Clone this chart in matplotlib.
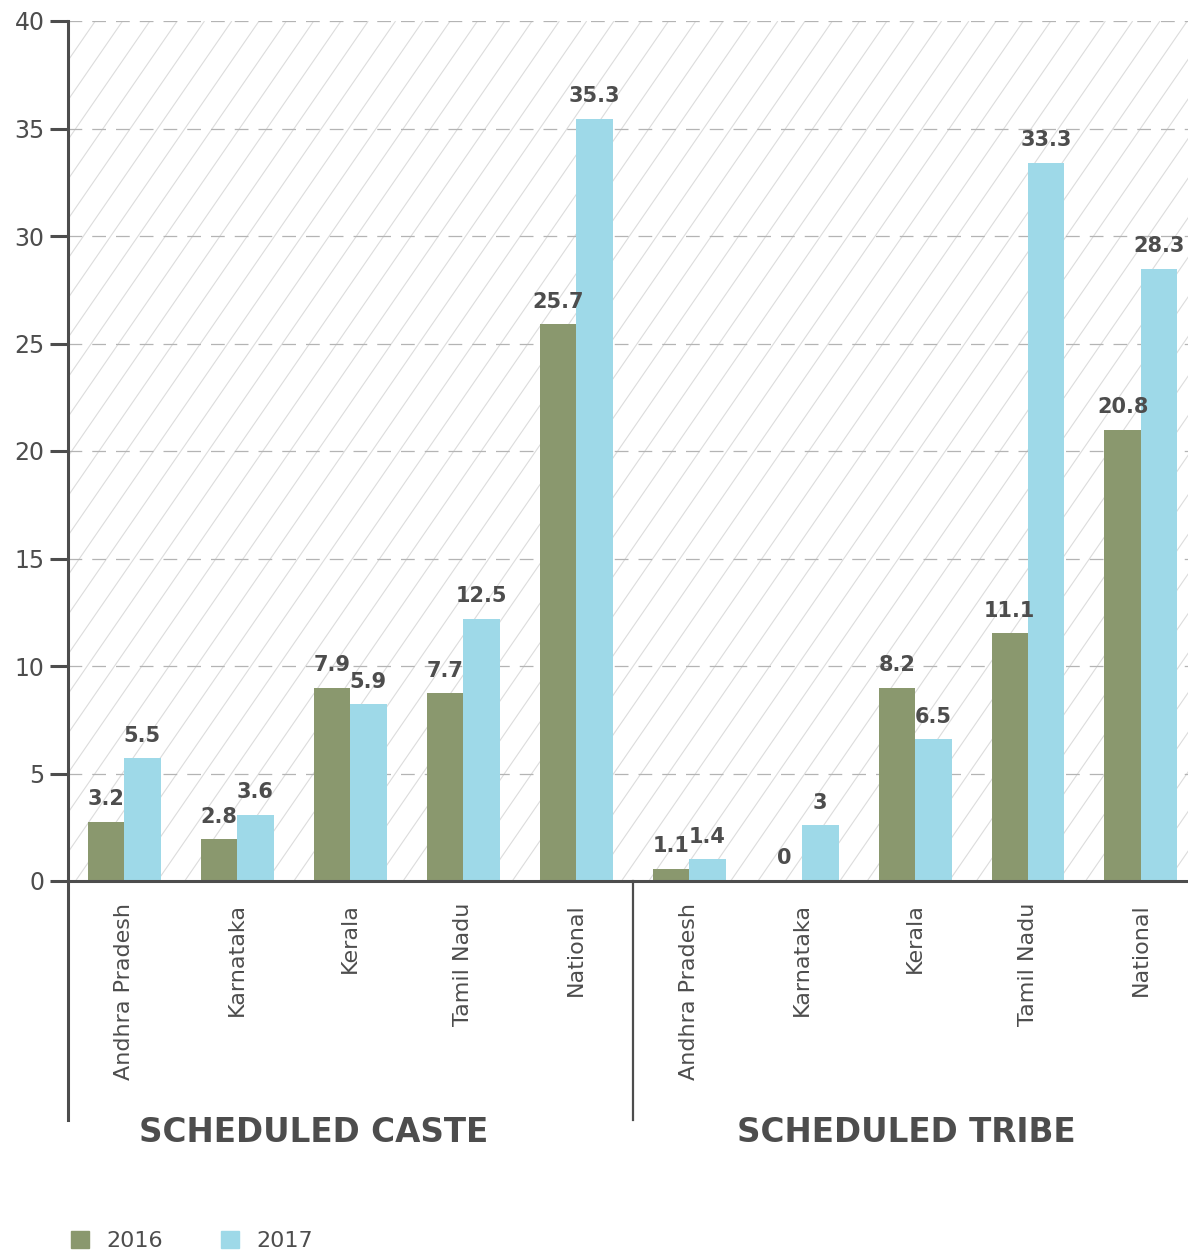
import numpy as np
import matplotlib
matplotlib.use("Agg")
import matplotlib.pyplot as plt
from matplotlib.collections import LineCollection
from matplotlib.patches import Patch
import matplotlib.transforms as mtransforms

# data as shown in the picture
states = ["Andhra Pradesh", "Karnataka", "Kerala", "Tamil Nadu", "National"]
groups = ["SCHEDULED CASTE", "SCHEDULED TRIBE"]
years = ["2016", "2017"]

# bar heights as drawn
bar_2016 = [2.75, 1.95, 8.98, 8.74, 25.9, 0.56, 0.0, 8.98, 11.53, 21.0]
bar_2017 = [5.72, 3.07, 8.23, 12.19, 35.45, 1.02, 2.6, 6.6, 33.4, 28.47]

# printed labels
label_2016 = ["3.2", "2.8", "7.9", "7.7", "25.7", "1.1", "0", "8.2", "11.1", "20.8"]
label_2017 = ["5.5", "3.6", "5.9", "12.5", "35.3", "1.4", "3", "6.5", "33.3", "28.3"]

GREEN = "#8a986e"
BLUE = "#9ed9e8"
TEXT = "#4d4d4d"
FONT = "DejaVu Sans"

plt.rcParams["font.family"] = [FONT]

W, H = 1188, 1255
fig = plt.figure(figsize=(W / 100, H / 100), dpi=100)
ax_l, ax_r, ax_t, ax_b = 68, 1188, 21, 881
ax = fig.add_axes([ax_l / W, 1 - ax_b / H, (ax_r - ax_l) / W, (ax_b - ax_t) / H])

n = len(states) * len(groups)
x = np.arange(n)
width = 0.323

# diagonal hatch background
pw, ph = ax_r - ax_l, ax_b - ax_t
slope = 1.45
segs = []
for c in np.arange(-ph / slope, pw, 27.3):
    segs.append([(c / pw, 0), ((c + ph / slope) / pw, 1)])
ax.add_collection(LineCollection(segs, colors="#dcdcdc", linewidths=0.8,
                                 transform=ax.transAxes, zorder=0))

# grid
for yv in range(5, 45, 5):
    ax.axhline(yv, color="#b4b4b4", lw=0.9, dashes=(11, 8), zorder=1)

b1 = ax.bar(x - width / 2, bar_2016, width, color=GREEN, zorder=2)
b2 = ax.bar(x + width / 2, bar_2017, width, color=BLUE, zorder=2)

for bars, labels in [(b1, label_2016), (b2, label_2017)]:
    for rect, lab in zip(bars, labels):
        ax.annotate(lab, (rect.get_x() + rect.get_width() / 2, rect.get_height()),
                    xytext=(0, 9), textcoords="offset points", ha="center",
                    va="bottom", fontsize=15, fontweight="semibold", color=TEXT)

ax.set_xlim(-0.496, 9.416)
ax.set_ylim(0, 40)
ax.set_yticks(range(0, 45, 5))
ax.tick_params(axis="y", length=13, width=2.2, color=TEXT, labelcolor=TEXT,
               labelsize=17, pad=4)
ax.set_xticks([])

for s in ["top", "right", "left"]:
    ax.spines[s].set_visible(False)
ax.spines["bottom"].set_linewidth(2.2)
ax.spines["bottom"].set_color(TEXT)

# left axis line and divider extending below
ext = -(1120 - ax_b) / ph
trans = mtransforms.blended_transform_factory(ax.transData, ax.transAxes)
ax.plot([-0.496, -0.496], [ext, 1], color=TEXT, lw=2.2, transform=trans,
        clip_on=False, zorder=5)
ax.plot([4.5, 4.5], [ext, 0], color=TEXT, lw=1.6, transform=trans, clip_on=False)

# category labels
for i in range(n):
    ax.text(x[i], -22 / ph, states[i % len(states)], rotation=90, ha="center",
            va="top", fontsize=16, color=TEXT, transform=trans)

# group titles
for gx, g in zip([1.68, 6.92], groups):
    ax.text(gx, -(1133 - ax_b) / ph, g, ha="center", va="center", fontsize=23.5,
            fontweight="bold", color=TEXT, transform=trans)

handles = [Patch(color=GREEN), Patch(color=BLUE)]
fig.legend(handles, years, loc="center left", bbox_to_anchor=(71 / W, 1 - 1241 / H),
           ncol=2, frameon=False, fontsize=16, handlelength=0.8, handleheight=0.8,
           handletextpad=0.8, columnspacing=2.6, labelcolor=TEXT,
           borderpad=0, borderaxespad=0)

fig.savefig("out.png", dpi=100)
